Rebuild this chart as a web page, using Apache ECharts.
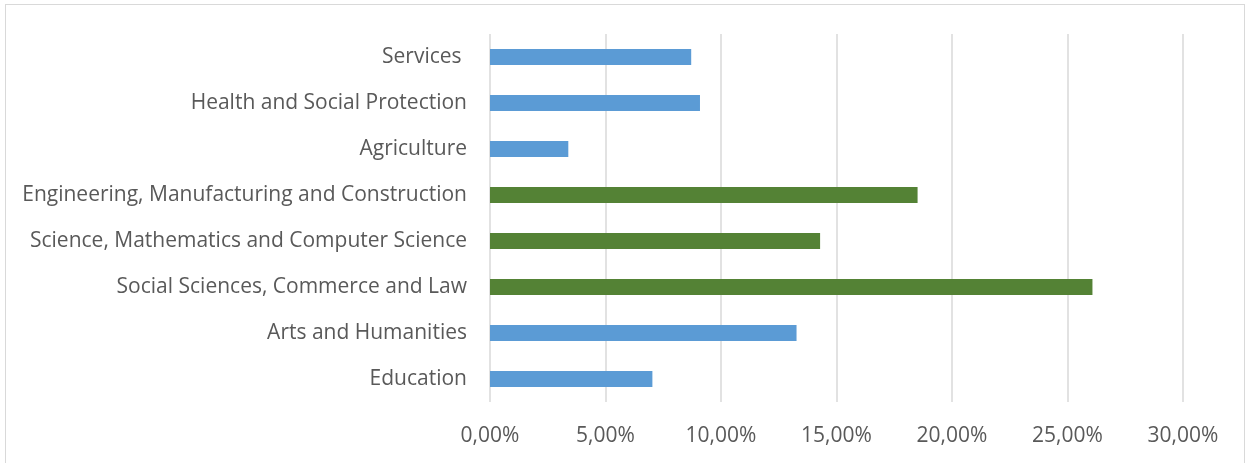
<!DOCTYPE html>
<html>
<head>
<meta charset="utf-8">
<script src="https://cdn.jsdelivr.net/npm/echarts@6/dist/echarts.min.js"></script>
<style>
  html, body { margin: 0; padding: 0; background: #fff; }
  #frame { position: absolute; left: 5px; top: 4px; width: 1240px; height: 462px; border: 1px solid #d9d9d9; box-sizing: border-box; }
  #chart { width: 1248px; height: 463px; }
</style>
</head>
<body>
<div id="frame"></div>
<div id="chart"></div>
<script>
// Fields of study, bottom to top
const categories = [
  'Education',
  'Arts and Humanities',
  'Social Sciences, Commerce and Law',
  'Science, Mathematics and Computer Science',
  'Engineering, Manufacturing and Construction',
  'Agriculture',
  'Health and Social Protection',
  'Services '
];
// Share of graduates (%)
const shares = [7.03, 13.27, 26.08, 14.29, 18.51, 3.39, 9.09, 8.71];
// Highlighted fields drawn in green
const highlighted = [false, false, true, true, true, false, false, false];
const xTicks = [0, 5, 10, 15, 20, 25, 30];

const BLUE = '#5b9bd5';
const GREEN = '#548235';

const fmt = v => v.toFixed(2).replace('.', ',') + '%';

const chart = echarts.init(document.getElementById('chart'), null, { renderer: 'canvas' });
chart.setOption({
  animation: false,
  grid: { left: 490, right: 65, top: 34, bottom: 61 },
  xAxis: {
    type: 'value',
    min: xTicks[0],
    max: xTicks[xTicks.length - 1],
    interval: xTicks[1] - xTicks[0],
    axisLine: { show: false },
    axisTick: { show: false },
    splitLine: { show: true, lineStyle: { color: '#d9d9d9', width: 1.5 } },
    axisLabel: {
      formatter: fmt,
      color: '#595959',
      fontFamily: 'Open Sans',
      fontSize: 21,
      margin: 24
    }
  },
  yAxis: {
    type: 'category',
    data: categories,
    axisLine: { show: false },
    axisTick: { show: false },
    axisLabel: {
      color: '#595959',
      fontFamily: 'Open Sans',
      fontSize: 21,
      margin: 23,
      padding: [4, 0, 0, 0]
    }
  },
  series: [{
    type: 'bar',
    barWidth: 16,
    data: shares.map((v, i) => ({
      value: v,
      itemStyle: { color: highlighted[i] ? GREEN : BLUE }
    }))
  }]
});
</script>
</body>
</html>
